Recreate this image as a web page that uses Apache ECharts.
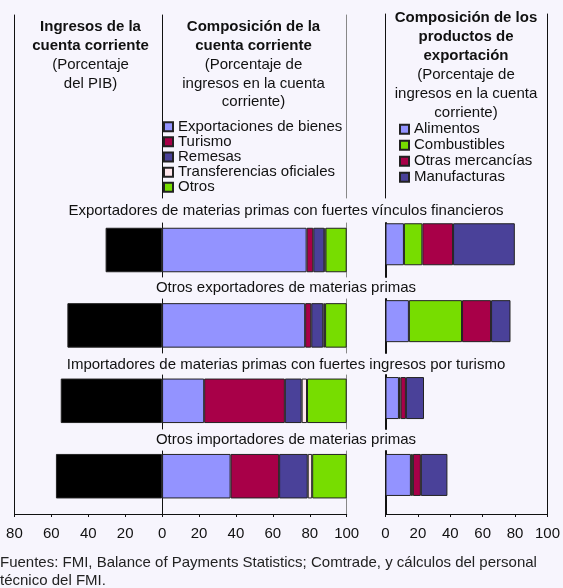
<!DOCTYPE html>
<html>
<head>
<meta charset="utf-8">
<script src="https://cdn.jsdelivr.net/npm/echarts@6/dist/echarts.min.js"></script>
<style>
html, body { margin: 0; padding: 0; background: #F7F5FD; }
#chart { width: 563px; height: 588px; }
</style>
</head>
<body>
<div id="chart"></div>
<script>
// grupos de países
var groups = [
    'Exportadores de materias primas con fuertes vínculos financieros',
    'Otros exportadores de materias primas',
    'Importadores de materias primas con fuertes ingresos por turismo',
    'Otros importadores de materias primas'
];
// Ingresos de la cuenta corriente (porcentaje del PIB)
var ingresos = [30.6, 51.3, 54.9, 57.5];
// Composición de la cuenta corriente (porcentaje de ingresos)
var exportBienes = [78.3, 77.5, 22.8, 37.1];
var turismo = [3.6, 3.3, 43.7, 26.3];
var remesas = [6.0, 6.5, 9.1, 15.5];
var transferencias = [0.6, 1.0, 2.9, 2.4];
var otros = [11.5, 11.7, 21.5, 18.7];
// Composición de los productos de exportación
var alimentos = [11.1, 14.1, 8.1, 15.3];
var combustibles = [11.1, 32.0, 1.0, 1.2];
var otrasMercancias = [18.5, 17.5, 3.2, 4.8];
var manufacturas = [37.2, 11.7, 10.9, 16.0];
// ejes
var ingresosTicks = [80, 60, 40, 20, 0];
var composicionTicks = [0, 20, 40, 60, 80, 100];

var FONT = '"Liberation Sans", Arial, sans-serif';
var TXT = '#111';
var C_AZUL = '#9393FF', C_ROJO = '#A80048', C_MORADO = '#4A4199', C_ROSA = '#FFE6EC', C_VERDE = '#77DD00';

var grids = [], xAxes = [], yAxes = [];

function lineAxis(gi, pos, color, width) {
    return {
        type: 'value', gridIndex: gi, position: pos,
        axisLine: { show: true, onZero: false, lineStyle: { color: color, width: width } },
        axisTick: { show: false }, axisLabel: { show: false }, splitLine: { show: false }
    };
}
// grid que sólo dibuja líneas verticales (bordes / separadores)
function lineGrid(left, width, top, height, lines) {
    var gi = grids.length;
    grids.push({ left: left, width: width, top: top, height: height });
    xAxes.push({ type: 'value', gridIndex: gi, show: false });
    lines.forEach(function (l) { yAxes.push(lineAxis(gi, l[0], l[1], l[2])); });
    return gi;
}

var L_LEFT = 14.4, L_WIDTH = 332.3;   // ingresos + composición
var ZERO_X = 162.3, M_WIDTH = 184.4;  // composición
var R_LEFT = 385.5, R_WIDTH = 166;    // productos
var AXIS_Y = 514, TOP_Y = 15;

// marco izquierdo con eje inferior
var fl = lineGrid(L_LEFT, L_WIDTH, TOP_Y, AXIS_Y - TOP_Y, [['left', TXT, 1]]);
xAxes[fl] = {
    type: 'value', gridIndex: fl, min: -ingresosTicks[0], max: composicionTicks[composicionTicks.length - 1], interval: 20,
    axisLine: { onZero: false, lineStyle: { color: TXT } },
    axisTick: { length: 3, lineStyle: { color: TXT } },
    axisLabel: { fontSize: 15, color: TXT, fontFamily: FONT, margin: 12, formatter: function (v) { return String(Math.abs(v)); } },
    splitLine: { show: false }
};
// marco derecho con eje inferior
var fr = lineGrid(R_LEFT, R_WIDTH, TOP_Y - 1, AXIS_Y - TOP_Y + 1, [['right', TXT, 1]]);
xAxes[fr] = {
    type: 'value', gridIndex: fr, min: 0, max: 100, interval: 20,
    axisLine: { onZero: false, lineStyle: { color: TXT } },
    axisTick: { length: 3, lineStyle: { color: TXT } },
    axisLabel: { fontSize: 15, color: TXT, fontFamily: FONT, margin: 12 },
    splitLine: { show: false }
};
// separadores de la cabecera
lineGrid(ZERO_X, M_WIDTH, TOP_Y, 183, [['left', TXT, 1], ['right', '#888', 1]]);
lineGrid(R_LEFT, R_WIDTH, TOP_Y - 1, 184, [['left', TXT, 1]]);
// segmentos por grupo
var segTop = [223, 299, 375, 451];
segTop.forEach(function (t, i) {
    var h = i < segTop.length - 1 ? 54 : AXIS_Y - t;
    lineGrid(ZERO_X, M_WIDTH, t, h, [['left', TXT, 1], ['right', '#888', 1]]);
    lineGrid(R_LEFT + 0.5, R_WIDTH - 0.5, t, h, [['left', TXT, 2]]);
});

// grids de barras
var bm = grids.length;
grids.push({ left: L_LEFT, width: L_WIDTH, top: 212.3, height: 301.6 });
xAxes.push({ type: 'value', gridIndex: bm, min: -80, max: 100, show: false });
var bmY = yAxes.length;
yAxes.push({ type: 'category', gridIndex: bm, data: groups, inverse: true, show: false });

var br = grids.length;
grids.push({ left: R_LEFT, width: R_WIDTH, top: 205.8, height: 307.6 });
xAxes.push({ type: 'value', gridIndex: br, min: 0, max: 100, show: false });
var brY = yAxes.length;
yAxes.push({ type: 'category', gridIndex: br, data: groups, inverse: true, show: false });

function bar(name, data, color, gi, yi, stack, width) {
    return {
        name: name, type: 'bar', stack: stack, data: data,
        xAxisIndex: gi, yAxisIndex: yi, barWidth: width,
        itemStyle: { color: color, borderColor: '#222', borderWidth: 1 },
        emphasis: { disabled: true }
    };
}

var series = [
    bar('Ingresos', ingresos.map(function (v) { return -v; }), '#000', bm, bmY, 'm', 44.5),
    bar('Exportaciones de bienes', exportBienes, C_AZUL, bm, bmY, 'm', 44.5),
    bar('Turismo', turismo, C_ROJO, bm, bmY, 'm', 44.5),
    bar('Remesas', remesas, C_MORADO, bm, bmY, 'm', 44.5),
    bar('Transferencias oficiales', transferencias, C_ROSA, bm, bmY, 'm', 44.5),
    bar('Otros', otros, C_VERDE, bm, bmY, 'm', 44.5),
    bar('Alimentos', alimentos, C_AZUL, br, brY, 'r', 42),
    bar('Combustibles', combustibles, C_VERDE, br, brY, 'r', 42),
    bar('Otras mercancías', otrasMercancias, C_ROJO, br, brY, 'r', 42),
    bar('Manufacturas', manufacturas, C_MORADO, br, brY, 'r', 42)
];

function txt(text, x, top, bold, lh) {
    return {
        text: text, left: x, top: top, textAlign: 'center', padding: 0, itemGap: 0,
        textStyle: { fontSize: 15, fontWeight: bold ? 'bold' : 'normal', color: TXT, fontFamily: FONT, lineHeight: lh }
    };
}
var titles = [
    txt('Ingresos de la\ncuenta corriente', 90.5, 18, true, 18.7),
    txt('(Porcentaje\ndel PIB)', 90.5, 55.7, false, 18.5),
    txt('Composición de la\ncuenta corriente', 253.5, 18, true, 18.7),
    txt('(Porcentaje de\ningresos en la cuenta\ncorriente)', 253.5, 55.7, false, 18.5),
    txt('Composición de los\nproductos de\nexportación', 466, 8.8, true, 19),
    txt('(Porcentaje de\ningresos en la cuenta\ncorriente)', 466, 65.5, false, 19)
];
var labelY = [211, 288, 365, 440];
groups.forEach(function (g, i) { titles.push(txt(g, 286, labelY[i] - 9, false, 18)); });
titles.push({
    text: 'Fuentes: FMI, Balance of Payments Statistics; Comtrade, y cálculos del personal\ntécnico del FMI.',
    left: 0, top: 553.7, padding: 0,
    textStyle: { fontSize: 15, fontWeight: 'normal', color: '#222', fontFamily: FONT, lineHeight: 18 }
});

var legendBase = {
    orient: 'vertical', icon: 'rect', itemWidth: 9, itemHeight: 9, padding: 0, selectedMode: false,
    textStyle: { fontSize: 15, color: TXT, fontFamily: FONT }
};
var legends = [
    Object.assign({}, legendBase, { left: 163, top: 119.2, itemGap: 0.15,
        textStyle: Object.assign({}, legendBase.textStyle, { lineHeight: 15 }),
        data: ['Exportaciones de bienes', 'Turismo', 'Remesas', 'Transferencias oficiales', 'Otros'] }),
    Object.assign({}, legendBase, { left: 399, top: 121.3, itemGap: 0,
        textStyle: Object.assign({}, legendBase.textStyle, { lineHeight: 16 }),
        data: ['Alimentos', 'Combustibles', 'Otras mercancías', 'Manufacturas'] })
];

var chart = echarts.init(document.getElementById('chart'));
chart.setOption({
    backgroundColor: '#F7F5FD',
    animation: false,
    textStyle: { fontFamily: FONT },
    title: titles,
    legend: legends,
    grid: grids,
    xAxis: xAxes,
    yAxis: yAxes,
    series: series
});
</script>
</body>
</html>
